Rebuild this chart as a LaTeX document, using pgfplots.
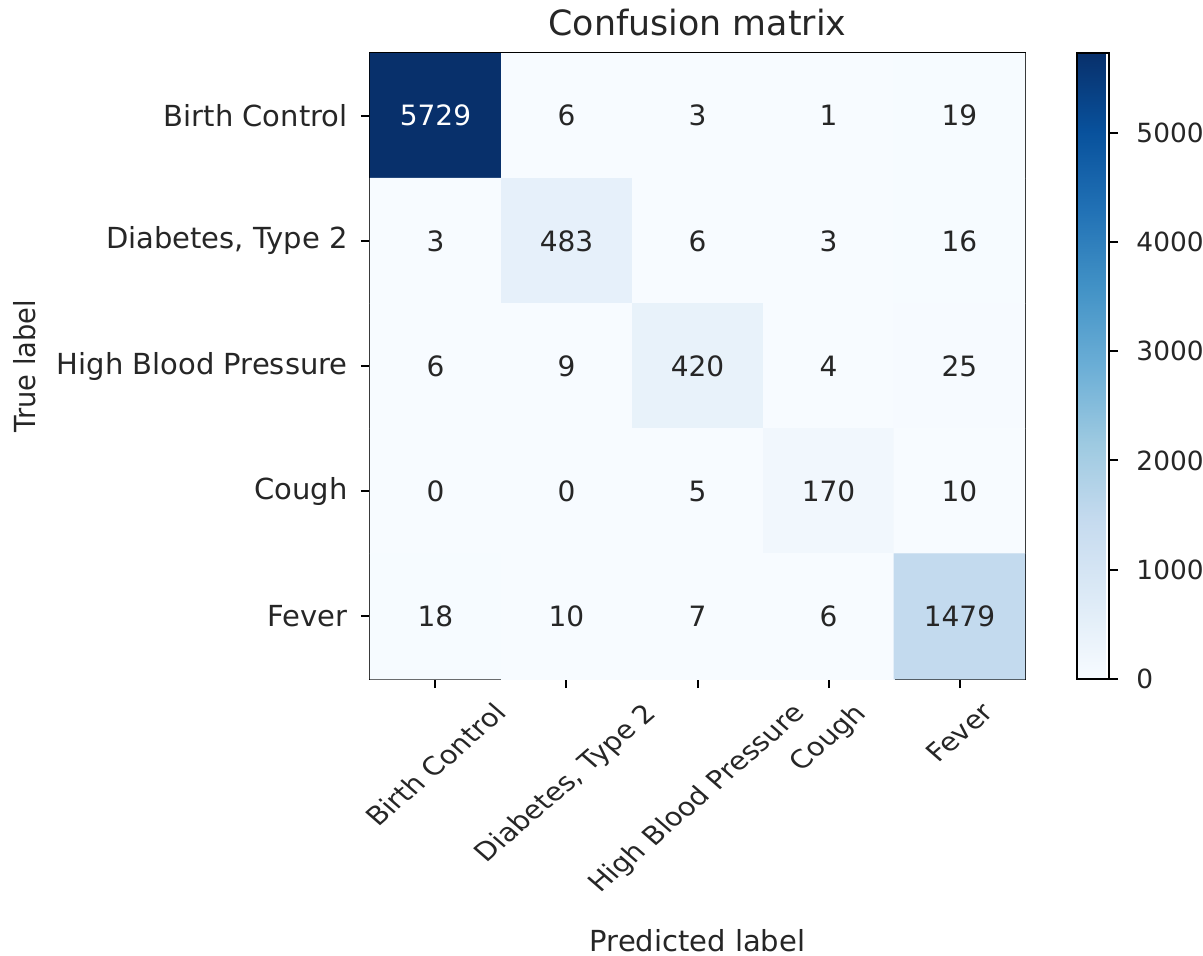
\documentclass[border=0pt]{standalone}
\usepackage{pgfplots}
\pgfplotsset{compat=1.18}
\usepackage{pgfplotstable}
\usepackage{graphicx}
\usepackage{fontspec}
\setmainfont{DejaVu Sans}

\pgfplotstableread{
x y c
0 0 5729
1 0 6
2 0 3
3 0 1
4 0 19
0 1 3
1 1 483
2 1 6
3 1 3
4 1 16
0 2 6
1 2 9
2 2 420
3 2 4
4 2 25
0 3 0
1 3 0
2 3 5
3 3 170
4 3 10
0 4 18
1 4 10
2 4 7
3 4 6
4 4 1479
}\cmdata

\pgfplotstableread{
x y c
1 0 6
2 0 3
3 0 1
4 0 19
0 1 3
1 1 483
2 1 6
3 1 3
4 1 16
0 2 6
1 2 9
2 2 420
3 2 4
4 2 25
0 3 0
1 3 0
2 3 5
3 3 170
4 3 10
0 4 18
1 4 10
2 4 7
3 4 6
4 4 1479
}\darktext

\pgfplotstableread{
x y c
0 0 5729
}\lighttext

\definecolor{txt}{RGB}{38,38,38}
\newcommand{\rlab}[1]{\scalebox{1}[0.87]{\rotatebox{45}{#1}}}

\begin{document}
\begin{tikzpicture}
\useasboundingbox (-185pt,-138pt) rectangle (416.5pt,339.5pt);
\begin{axis}[
  at={(0,0)}, anchor=south west,
  scale only axis,
  width=327.5pt, height=313pt,
  xmin=-0.5, xmax=4.5, ymin=-0.5, ymax=4.5,
  y dir=reverse,
  axis line style={black, line width=1pt},
  tick pos=left,
  tick align=outside,
  major tick length=4.5pt,
  every tick/.style={black, line width=1pt},
  xtick={0,1,2,3,4},
  ytick={0,1,2,3,4},
  xticklabels={{\rlab{Birth Control}},{\rlab{Diabetes, Type 2}},{\rlab{High Blood Pressure}},{\rlab{Cough}},{\rlab{Fever}}},
  yticklabels={{Birth Control},{Diabetes, Type 2},{High Blood Pressure},{Cough},{Fever}},
  xticklabel style={anchor=north, yshift=-2.5pt, font=\fontsize{14.5}{17}\selectfont, text=txt, inner sep=4pt},
  yticklabel style={anchor=east, xshift=-2.5pt, font=\fontsize{14.5}{17}\selectfont, text=txt, inner sep=4pt},
  /pgf/number format/assume math mode=true,
  /pgf/number format/1000 sep={},
  title={Confusion matrix},
  title style={at={(axis description cs:0.5,1.02875)}, anchor=base, yshift=-6pt, font=\fontsize{17.4}{20}\selectfont, text=txt},
  xlabel={Predicted label},
  xlabel style={at={(axis description cs:0.5,-0.4345)}, anchor=base, font=\fontsize{14.5}{17}\selectfont, text=txt},
  ylabel={\scalebox{1}[0.94]{\rotatebox{90}{True label}}},
  ylabel style={rotate=-90, at={(axis description cs:-0.5099,0.5)}, anchor=east, inner sep=0pt, font=\fontsize{14.5}{17}\selectfont, text=txt},
  colormap={Blues}{rgb255=(247,251,255) rgb255=(222,235,247) rgb255=(198,219,239) rgb255=(158,202,225) rgb255=(107,174,214) rgb255=(66,146,198) rgb255=(33,113,181) rgb255=(8,81,156) rgb255=(8,48,107)},
  point meta min=0, point meta max=5729,
  colorbar,
  colorbar style={
    at={(parent axis.north east)}, anchor=north west, xshift=17.5pt,
    scale only axis,
    width=16pt, height=313pt,
    axis line style={black, line width=1pt},
    ytick={0,1000,2000,3000,4000,5000},
    ytick pos=right,
    yticklabel pos=right,
    tick align=outside,
    major tick length=4.5pt,
    every tick/.style={black, line width=1pt},
    yticklabel style={xshift=5pt, font=\fontsize{13.2}{16}\selectfont, text=txt, inner sep=4pt,
      /pgf/number format/assume math mode=true, /pgf/number format/1000 sep={}},
  },
]
\addplot[matrix plot*, mesh/cols=5, point meta=explicit] table[x=x, y=y, meta=c] {\cmdata};
\addplot[only marks, mark=none, point meta=explicit symbolic,
  nodes near coords, nodes near coords align=center,
  every node near coord/.style={anchor=center, text=txt, font=\fontsize{14}{17}\selectfont}]
  table[x=x, y=y, meta=c] {\darktext};
\addplot[only marks, mark=none, point meta=explicit symbolic,
  nodes near coords, nodes near coords align=center,
  every node near coord/.style={anchor=center, text=white, font=\fontsize{14}{17}\selectfont}]
  table[x=x, y=y, meta=c] {\lighttext};
\end{axis}
\end{tikzpicture}
\end{document}
